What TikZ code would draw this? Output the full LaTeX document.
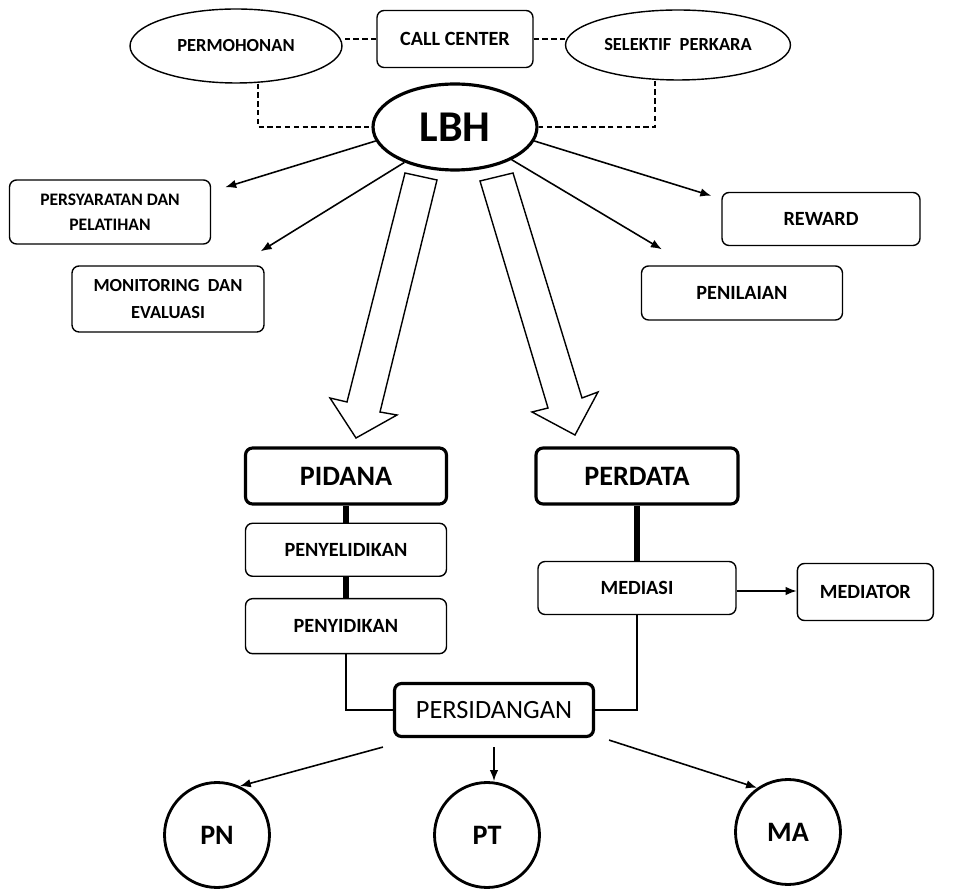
\documentclass[tikz,border=0pt]{standalone}
\usepackage{fontspec}
\setmainfont{Carlito}
\usetikzlibrary{positioning,shapes.geometric,arrows.meta}

\begin{document}
\begin{tikzpicture}[x=0.02cm, y=-0.02cm, >={Latex[length=2.2mm,width=1.7mm]}, node distance=1cm,
        box/.style={draw, line width=0.8pt, rounded corners=4pt, align=center, inner sep=2pt,
            font=\bfseries\fontsize{11.5}{14}\selectfont},
        bigbox/.style={box, line width=1.8pt, font=\bfseries\fontsize{16}{19}\selectfont},
        oval/.style={draw, ellipse, line width=0.8pt, inner sep=0pt,
            font=\bfseries\fontsize{10.5}{12}\selectfont},
        court/.style={draw, circle, line width=1.6pt, minimum size=2.1cm,
            font=\bfseries\fontsize{16}{19}\selectfont},
        link/.style={densely dashed, line width=0.8pt},
        bar/.style={line width=3.4pt},
        flow/.style={->, line width=0.9pt},
        hollow/.style={draw, line width=0.8pt, fill=white, line join=miter}]
        \useasboundingbox (0,0) rectangle (964,891);

        % top row
        \node (perm) [oval, minimum width=4.24cm, minimum height=1.48cm] at (236,46) {PERMOHONAN};
        \node (call) [box, minimum width=3.12cm, minimum height=1.14cm] at (455,39) {CALL CENTER};
        \node (sel) [oval, minimum width=4.5cm, minimum height=1.4cm] at (678,45) {SELEKTIF\ \ PERKARA};
        \node (lbh) [oval, line width=1.8pt, minimum width=3.28cm, minimum height=1.72cm,
            font=\bfseries\fontsize{25}{28}\selectfont] at (455,127) {LBH};

        \draw[link] (call.west) -- (call.west -| perm.east);
        \draw[link] (call.east) -- (call.east -| sel.west);
        \draw[link] ([xshift=0.44cm]perm.south) |- (lbh.west);
        \draw[link] ([xshift=-0.46cm]sel.south) |- (lbh.east);

        % side tasks
        \node (syarat) [box, minimum width=4.02cm, minimum height=1.28cm,
            font=\bfseries\fontsize{10}{14}\selectfont] at (110,212) {PERSYARATAN DAN\\PELATIHAN};
        \node (monev) [box, minimum width=3.84cm, minimum height=1.32cm,
            font=\bfseries\fontsize{10.5}{15}\selectfont] at (168,299) {MONITORING\ \ DAN\\EVALUASI};
        \node (reward) [box, minimum width=3.96cm, minimum height=1.06cm] at (821,219) {REWARD};
        \node (nilai) [box, minimum width=4.02cm, minimum height=1.08cm] at (742,293) {PENILAIAN};

        \draw[flow] (lbh.190) -- ([xshift=0.28cm, yshift=-0.16cm]syarat.north east);
        \draw[flow] (lbh.215) -- ([xshift=-0.08cm, yshift=0.28cm]monev.north east);
        \draw[flow] (lbh.-10) -- ([xshift=-0.2cm, yshift=-0.08cm]reward.north west);
        \draw[flow] (lbh.-30) -- ([xshift=0.42cm, yshift=0.32cm]nilai.north west);

        % big arrows
        \path[hollow] (405,173) -- (437,180) -- (380,412) -- (397,415) -- (356,438)
            -- (330,398) -- (347,402) -- cycle;
        \path[hollow] (480,181) -- (513,173) -- (582,398) -- (598,392) -- (575,435)
            -- (532,412) -- (548,408) -- cycle;

        % pidana
        \node (pidana) [bigbox, minimum width=4.02cm, minimum height=1.12cm] at (346,476) {PIDANA};
        \node (lidik) [box, minimum width=4.02cm, minimum height=1.06cm, below=0.34cm of pidana] {PENYELIDIKAN};
        \node (sidik) [box, minimum width=4.02cm, minimum height=1.1cm, below=0.42cm of lidik] {PENYIDIKAN};

        % perdata
        \node (perdata) [bigbox, minimum width=4.04cm, minimum height=1.12cm] at (637,476) {PERDATA};
        \node (mediasi) [box, minimum width=3.96cm, minimum height=1.06cm] at (637,588) {MEDIASI};
        \node (mediator) [box, minimum width=2.72cm, minimum height=1.14cm, right=1.2cm of mediasi,
            yshift=-0.08cm] {MEDIATOR};

        \draw[bar] (pidana) -- (lidik);
        \draw[bar] (lidik) -- (sidik);
        \draw[bar] (perdata) -- (mediasi);
        \draw[flow] ([yshift=-0.06cm]mediasi.east) -- ([yshift=-0.06cm]mediasi.east -| mediator.west);

        % sidang
        \node (sidang) [bigbox, minimum width=3.98cm, minimum height=1.06cm,
            font=\fontsize{15}{18}\selectfont] at (494,710) {PERSIDANGAN};
        \draw[line width=0.8pt] (sidik.south) |- (sidang.west);
        \draw[line width=0.8pt] (mediasi.south) |- (sidang.east);

        \node (pn) [court] at (217,835) {PN};
        \node (pt) [court] at (487,835) {PT};
        \node (ma) [court] at (788,832) {MA};

        \draw[flow] ([xshift=-0.2cm, yshift=-0.18cm]sidang.south west) -- (pn.65);
        \draw[flow] ([yshift=-0.18cm]sidang.south) -- (sidang.south |- pt.north);
        \draw[flow] ([xshift=0.28cm, yshift=-0.04cm]sidang.south east) -- (ma.125);
\end{tikzpicture}
\end{document}
